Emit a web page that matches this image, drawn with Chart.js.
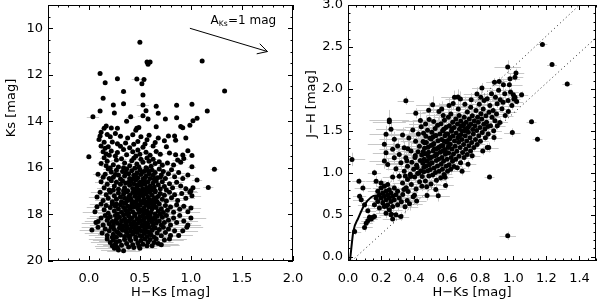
<!DOCTYPE html>
<html>
<head>
<meta charset="utf-8">
<script src="https://cdn.jsdelivr.net/npm/chart.js@4.4.0/dist/chart.umd.min.js"></script>
<style>
  body { margin: 0; background: #fff; }
  #wrap { position: relative; width: 600px; height: 302px; overflow: hidden; }
  canvas { position: absolute; top: 0; }
</style>
</head>
<body>
<div id="wrap">
  <canvas id="cmd" width="310" height="302" style="left:0"></canvas>
  <canvas id="ccd" width="300" height="302" style="left:300px"></canvas>
</div>
<script>
// left panel: [H-Ks, Ks, err(H-Ks)]
const cmdBright = [
  [0.50,10.60,0.02],[0.57,11.45,0.02],[0.60,11.45,0.02],[0.58,11.55,0.02],[1.11,11.41,0.02],
  [0.11,11.94,0.02],[0.16,12.34,0.02],[0.28,12.17,0.02],[0.47,12.18,0.05],[0.54,12.20,0.03],
  [0.52,12.38,0.02],[1.33,12.70,0.02],[0.34,12.72,0.03],[0.53,12.87,0.02],[0.14,13.01,0.02],
  [0.24,13.30,0.02],[0.34,13.24,0.02],[0.53,13.30,0.06],[0.66,13.35,0.02],[0.86,13.31,0.02],
  [1.01,13.27,0.02],[1.16,13.55,0.02],[0.11,13.56,0.02],[0.25,13.64,0.02],[0.04,13.80,0.06],
  [0.56,13.54,0.02],[0.58,13.90,0.02],[0.53,13.76,0.05],[0.68,13.65,0.02],[0.41,13.80,0.04],
  [0.75,13.90,0.02],[0.86,13.84,0.02],[1.06,13.87,0.02],[0.37,13.99,0.02],[1.02,13.97,0.02],
  [0.47,14.30,0.03],[0.49,14.26,0.02],[0.46,14.38,0.02],[0.66,14.23,0.02],[0.90,14.22,0.02],
  [0.99,14.17,0.02],[0.92,14.27,0.02],[0.17,14.20,0.02],[0.15,14.30,0.03],[0.22,14.28,0.02],
  [0.28,14.30,0.02],[0.11,14.63,0.03]
];
const cmd14 = [
  [0.12,14.47,0.02],[0.18,14.56,0.03],[0.21,14.66,0.02],[0.10,14.78,0.03],[0.26,14.52,0.02],
  [0.31,14.64,0.03],[0.38,14.71,0.02],[0.43,14.57,0.03],[0.48,14.86,0.02],[0.51,14.66,0.03],
  [0.57,14.79,0.02],[0.59,14.60,0.03],[0.65,14.91,0.02],[0.68,14.72,0.03],[0.74,14.83,0.02],
  [0.78,14.63,0.03],[0.84,14.63,0.02],[0.85,14.81,0.03],[0.95,14.72,0.02],[0.23,14.89,0.03],
  [0.28,14.96,0.02],[0.36,14.93,0.03],[0.15,14.90,0.02],[0.55,14.97,0.03],[0.44,14.98,0.02]
];
const cmd15 = [
  [0.12,15.06,0.03],[0.16,15.16,0.04],[0.19,15.09,0.03],[0.22,15.27,0.04],[0.17,15.40,0.03],
  [0.20,15.46,0.04],[0.28,15.34,0.03],[0.31,15.07,0.04],[0.34,15.21,0.03],[0.37,15.43,0.04],
  [0.40,15.13,0.03],[0.43,15.31,0.04],[0.48,15.23,0.03],[0.50,15.41,0.04],[0.53,15.11,0.03],
  [0.56,15.33,0.04],[0.60,15.46,0.03],[0.63,15.06,0.04],[0.66,15.29,0.03],[0.70,15.41,0.04],
  [0.76,15.09,0.03],[0.79,15.36,0.04],[0.85,15.43,0.03],[0.92,15.45,0.04],[1.01,15.47,0.03],
  [0.26,15.49,0.04],[0.46,15.49,0.03],[0.14,15.31,0.04],[0.97,15.26,0.03],[0.00,15.52,0.03]
];
const cmd155 = [
  [0.15,15.56,0.04],[0.18,15.71,0.05],[0.24,15.86,0.04],[0.27,15.66,0.05],[0.29,15.96,0.04],
  [0.32,15.61,0.05],[0.35,15.79,0.04],[0.40,15.91,0.05],[0.42,15.69,0.04],[0.47,15.83,0.05],
  [0.49,15.96,0.04],[0.51,15.63,0.05],[0.53,15.76,0.04],[0.57,15.57,0.05],[0.61,15.93,0.04],
  [0.63,15.63,0.05],[0.65,15.81,0.04],[0.69,15.73,0.05],[0.72,15.89,0.04],[0.77,15.79,0.05],
  [0.83,15.87,0.04],[0.87,15.66,0.05],[0.90,15.76,0.04],[1.01,15.95,0.04],[0.17,15.91,0.05],
  [0.21,16.00,0.04],[0.34,15.99,0.05],[0.44,15.58,0.04],[0.56,15.99,0.05],[0.12,15.81,0.04],
  [0.59,15.71,0.05],[0.93,15.60,0.04]
];
const cmd16 = [
  [0.09,16.27,0.05],[0.16,16.27,0.06],[0.19,16.05,0.05],[0.22,16.18,0.06],[0.24,16.40,0.05],
  [0.27,16.10,0.06],[0.29,16.30,0.05],[0.31,16.48,0.06],[0.33,16.15,0.05],[0.35,16.35,0.06],
  [0.37,16.05,0.05],[0.39,16.25,0.06],[0.40,16.45,0.05],[0.42,16.12,0.06],[0.44,16.32,0.05],
  [0.45,16.02,0.06],[0.47,16.22,0.05],[0.48,16.42,0.06],[0.50,16.08,0.05],[0.51,16.28,0.06],
  [0.53,16.48,0.05],[0.54,16.15,0.06],[0.56,16.35,0.05],[0.57,16.05,0.06],[0.59,16.25,0.05],
  [0.60,16.45,0.06],[0.62,16.10,0.05],[0.63,16.32,0.06],[0.65,16.20,0.05],[0.67,16.42,0.06],
  [0.69,16.05,0.05],[0.71,16.30,0.06],[0.73,16.15,0.05],[0.75,16.45,0.06],[0.78,16.25,0.05],
  [0.81,16.08,0.06],[0.84,16.38,0.05],[0.88,16.20,0.06],[0.92,16.45,0.05],[0.97,16.30,0.06],
  [1.23,16.06,0.04],[1.06,16.52,0.05],[0.20,16.45,0.06],[0.14,16.40,0.05],[0.26,16.28,0.06],
  [0.36,16.20,0.05],[0.46,16.38,0.06],[0.52,16.20,0.05],[0.58,16.12,0.06],[0.64,16.48,0.05],
  [0.70,16.40,0.06],[0.55,16.42,0.05],[0.43,16.48,0.06]
];
const cmd165 = [
  [0.12,16.60,0.06],[0.15,16.85,0.07],[0.18,16.70,0.06],[0.20,16.95,0.07],[0.22,16.55,0.06],
  [0.25,16.78,0.07],[0.27,16.62,0.06],[0.29,16.92,0.07],[0.31,16.70,0.06],[0.33,16.55,0.07],
  [0.35,16.85,0.06],[0.36,16.65,0.07],[0.38,16.98,0.06],[0.40,16.75,0.07],[0.41,16.58,0.06],
  [0.43,16.88,0.07],[0.44,16.68,0.06],[0.46,16.52,0.07],[0.47,16.80,0.06],[0.49,16.95,0.07],
  [0.50,16.62,0.06],[0.51,16.75,0.07],[0.53,16.90,0.06],[0.54,16.55,0.07],[0.55,16.70,0.06],
  [0.57,16.85,0.07],[0.58,16.60,0.06],[0.60,16.78,0.07],[0.61,16.95,0.06],[0.63,16.65,0.07],
  [0.64,16.82,0.06],[0.66,16.55,0.07],[0.68,16.72,0.06],[0.70,16.90,0.07],[0.72,16.60,0.06],
  [0.74,16.80,0.07],[0.76,16.95,0.06],[0.79,16.68,0.07],[0.82,16.85,0.06],[0.86,16.62,0.07],
  [0.90,16.78,0.06],[0.95,16.90,0.07],[1.00,16.98,0.06],[1.17,16.84,0.05],[1.02,16.85,0.07],
  [0.45,16.95,0.06],[0.52,16.68,0.07],[0.59,16.92,0.06],[0.39,16.62,0.07],[0.48,16.72,0.06],
  [0.56,16.98,0.07],[0.65,16.98,0.06],[0.24,16.95,0.07],[0.34,16.98,0.06]
];
const cmd17 = [
  [0.08,17.25,0.08],[0.11,17.05,0.09],[0.14,17.40,0.08],[0.17,17.15,0.09],[0.19,17.30,0.08],
  [0.21,17.05,0.09],[0.23,17.45,0.08],[0.25,17.20,0.09],[0.27,17.35,0.08],[0.29,17.08,0.09],
  [0.31,17.25,0.08],[0.32,17.45,0.09],[0.34,17.12,0.08],[0.35,17.30,0.09],[0.37,17.02,0.08],
  [0.38,17.40,0.09],[0.40,17.18,0.08],[0.41,17.32,0.09],[0.43,17.06,0.08],[0.44,17.48,0.09],
  [0.45,17.22,0.08],[0.47,17.38,0.09],[0.48,17.10,0.08],[0.49,17.28,0.09],[0.51,17.44,0.08],
  [0.52,17.04,0.09],[0.53,17.20,0.08],[0.54,17.35,0.09],[0.56,17.12,0.08],[0.57,17.48,0.09],
  [0.58,17.26,0.08],[0.60,17.06,0.09],[0.61,17.40,0.08],[0.62,17.18,0.09],[0.64,17.32,0.08],
  [0.65,17.02,0.09],[0.67,17.45,0.08],[0.68,17.22,0.09],[0.70,17.10,0.08],[0.72,17.35,0.09],
  [0.74,17.18,0.08],[0.76,17.42,0.09],[0.79,17.05,0.08],[0.81,17.28,0.09],[0.84,17.15,0.08],
  [0.87,17.40,0.09],[0.91,17.10,0.08],[0.95,17.30,0.09],[0.99,17.05,0.08],[1.01,17.20,0.09],
  [0.46,17.02,0.08],[0.55,17.45,0.09],[0.63,17.48,0.08],[0.39,17.25,0.09],[0.50,17.15,0.08],
  [0.59,17.36,0.09],[0.66,17.28,0.08],[0.42,17.42,0.09],[0.36,17.50,0.08]
];
const cmd175 = [
  [0.06,17.88,0.12],[0.08,17.67,0.10],[0.12,17.55,0.11],[0.15,17.80,0.10],[0.17,17.62,0.12],
  [0.19,17.95,0.10],[0.21,17.70,0.11],[0.23,17.55,0.10],[0.25,17.85,0.12],[0.26,17.65,0.10],
  [0.28,17.98,0.11],[0.29,17.75,0.10],[0.31,17.58,0.12],[0.32,17.90,0.10],[0.34,17.70,0.11],
  [0.35,17.52,0.10],[0.36,17.82,0.12],[0.38,17.65,0.10],[0.39,17.95,0.11],[0.40,17.78,0.10],
  [0.42,17.58,0.12],[0.43,17.88,0.10],[0.44,17.68,0.11],[0.45,17.98,0.10],[0.47,17.55,0.12],
  [0.48,17.75,0.10],[0.49,17.92,0.11],[0.50,17.62,0.10],[0.51,17.82,0.12],[0.52,17.52,0.10],
  [0.54,17.72,0.11],[0.55,17.95,0.10],[0.56,17.60,0.12],[0.57,17.85,0.10],[0.59,17.68,0.11],
  [0.60,17.52,0.10],[0.61,17.90,0.12],[0.62,17.75,0.10],[0.64,17.58,0.11],[0.65,17.98,0.10],
  [0.66,17.70,0.12],[0.68,17.85,0.10],[0.69,17.55,0.11],[0.71,17.75,0.10],[0.73,17.92,0.12],
  [0.75,17.62,0.10],[0.77,17.82,0.11],[0.80,17.68,0.10],[0.83,17.90,0.12],[0.86,17.58,0.10],
  [0.89,17.78,0.11],[0.93,17.65,0.10],[0.97,17.88,0.12],[1.00,17.72,0.10],[0.46,17.65,0.11],
  [0.53,17.85,0.10],[0.58,17.98,0.12],[0.41,17.70,0.10],[0.37,17.96,0.11],[0.63,17.65,0.10],
  [0.70,17.97,0.12],[0.27,17.55,0.10]
];
const cmd18 = [
  [0.07,18.35,0.14],[0.09,18.30,0.13],[0.12,18.15,0.14],[0.14,18.45,0.13],[0.16,18.05,0.15],
  [0.18,18.25,0.13],[0.20,18.40,0.14],[0.21,18.10,0.13],[0.23,18.30,0.15],[0.24,18.48,0.13],
  [0.26,18.05,0.14],[0.27,18.22,0.13],[0.28,18.38,0.15],[0.30,18.12,0.13],[0.31,18.45,0.14],
  [0.32,18.28,0.13],[0.34,18.02,0.15],[0.35,18.18,0.13],[0.36,18.35,0.14],[0.37,18.50,0.13],
  [0.39,18.08,0.15],[0.40,18.25,0.13],[0.41,18.42,0.14],[0.42,18.15,0.13],[0.44,18.32,0.15],
  [0.45,18.05,0.13],[0.46,18.48,0.14],[0.47,18.20,0.13],[0.48,18.38,0.15],[0.50,18.10,0.13],
  [0.51,18.28,0.14],[0.52,18.45,0.13],[0.53,18.02,0.15],[0.54,18.18,0.13],[0.55,18.35,0.14],
  [0.57,18.12,0.13],[0.58,18.42,0.15],[0.59,18.25,0.13],[0.60,18.05,0.14],[0.62,18.32,0.13],
  [0.63,18.48,0.15],[0.64,18.15,0.13],[0.66,18.38,0.14],[0.67,18.08,0.13],[0.69,18.28,0.15],
  [0.71,18.45,0.13],[0.72,18.12,0.14],[0.74,18.35,0.13],[0.76,18.05,0.15],[0.78,18.25,0.13],
  [0.80,18.45,0.14],[0.83,18.15,0.13],[0.86,18.35,0.15],[0.89,18.05,0.13],[0.93,18.28,0.14],
  [0.97,18.45,0.13],[1.00,18.15,0.15],[0.43,18.40,0.13],[0.49,18.22,0.14],[0.56,18.50,0.13],
  [0.61,18.18,0.15],[0.38,18.30,0.13],[0.33,18.48,0.14],[0.65,18.22,0.13],[0.25,18.32,0.15],
  [0.19,18.15,0.13]
];
const cmd185 = [
  [0.03,18.67,0.12],[0.09,18.55,0.16],[0.13,18.80,0.17],[0.16,18.62,0.15],[0.18,18.90,0.18],
  [0.20,18.70,0.16],[0.22,18.55,0.17],[0.24,18.85,0.15],[0.25,18.65,0.18],[0.27,18.98,0.16],
  [0.28,18.75,0.17],[0.30,18.58,0.15],[0.31,18.88,0.18],[0.33,18.68,0.16],[0.34,18.52,0.17],
  [0.35,18.95,0.15],[0.37,18.78,0.18],[0.38,18.60,0.16],[0.39,18.90,0.17],[0.41,18.72,0.15],
  [0.42,18.55,0.18],[0.43,18.85,0.16],[0.45,18.65,0.17],[0.46,18.98,0.15],[0.47,18.78,0.18],
  [0.49,18.58,0.16],[0.50,18.90,0.17],[0.51,18.70,0.15],[0.53,18.52,0.18],[0.54,18.82,0.16],
  [0.55,18.65,0.17],[0.57,18.95,0.15],[0.58,18.75,0.18],[0.59,18.55,0.16],[0.61,18.88,0.17],
  [0.62,18.68,0.15],[0.64,18.98,0.18],[0.65,18.58,0.16],[0.67,18.80,0.17],[0.69,18.65,0.15],
  [0.71,18.92,0.18],[0.73,18.55,0.16],[0.75,18.78,0.17],[0.78,18.62,0.15],[0.80,18.90,0.16],
  [0.84,18.70,0.17],[0.88,18.90,0.14],[0.92,18.70,0.15],[0.96,18.55,0.16],[0.44,18.75,0.17],
  [0.48,18.62,0.15],[0.52,18.95,0.18],[0.56,18.72,0.16],[0.40,18.98,0.17],[0.36,18.68,0.15],
  [0.60,18.80,0.18],[0.29,18.80,0.16],[0.23,18.98,0.17]
];
const cmd19 = [
  [0.18,19.05,0.18],[0.21,19.20,0.19],[0.23,19.35,0.17],[0.24,19.10,0.20],[0.26,19.28,0.18],
  [0.28,19.42,0.19],[0.29,19.53,0.17],[0.30,19.15,0.20],[0.32,19.32,0.18],[0.34,19.56,0.16],
  [0.35,19.08,0.19],[0.37,19.25,0.17],[0.39,19.40,0.20],[0.41,19.12,0.18],[0.43,19.30,0.19],
  [0.44,19.42,0.17],[0.46,19.05,0.20],[0.48,19.22,0.18],[0.49,19.35,0.19],[0.51,19.12,0.17],
  [0.53,19.28,0.20],[0.55,19.05,0.18],[0.57,19.35,0.19],[0.58,19.18,0.17],[0.60,19.08,0.20],
  [0.62,19.35,0.18],[0.64,19.20,0.19],[0.66,19.05,0.17],[0.68,19.25,0.20],[0.71,19.30,0.18],
  [0.74,19.10,0.19],[0.79,19.05,0.17],[0.25,19.45,0.18],[0.40,19.05,0.19],[0.50,19.45,0.17],
  [0.27,19.18,0.18]
];

// right panel: [H-Ks, J-H, err]
const ccdBlue = [
  [0.024,1.16,0.08],[0.16,1.00,0.04],[0.066,0.90,0.04],[0.09,0.82,0.05],[0.07,0.72,0.04],
  [0.08,0.68,0.05],[0.10,0.62,0.04],[0.12,0.55,0.05],[0.13,0.47,0.04],[0.14,0.45,0.04],
  [0.15,0.47,0.05],[0.11,0.40,0.04],[0.10,0.35,0.05],[0.12,0.43,0.04],[0.16,0.48,0.04],
  [0.04,0.30,0.04],[0.32,0.48,0.05],[0.27,0.45,0.06],[0.29,0.50,0.05]
];
const ccdLow = [
  [0.16,0.62,0.05],[0.17,0.70,0.04],[0.18,0.78,0.06],[0.18,0.66,0.05],[0.19,0.74,0.04],
  [0.19,0.58,0.07],[0.20,0.82,0.05],[0.20,0.70,0.04],[0.21,0.64,0.06],[0.21,0.76,0.05],
  [0.22,0.72,0.04],[0.22,0.60,0.08],[0.22,0.84,0.05],[0.23,0.68,0.04],[0.23,0.78,0.06],
  [0.24,0.74,0.05],[0.24,0.62,0.07],[0.24,0.86,0.05],[0.25,0.70,0.04],[0.25,0.56,0.08],
  [0.25,0.80,0.05],[0.26,0.66,0.06],[0.26,0.76,0.04],[0.27,0.72,0.05],[0.27,0.60,0.07],
  [0.28,0.82,0.06],[0.28,0.68,0.05],[0.29,0.74,0.06],[0.30,0.62,0.08],[0.30,0.78,0.05],
  [0.31,0.70,0.07],[0.23,0.52,0.06],[0.26,0.50,0.07],[0.20,0.88,0.05],[0.17,0.90,0.06]
];
const ccdWing = [
  [0.22,1.34,0.10],[0.23,1.24,0.08],[0.22,1.14,0.09],[0.24,1.10,0.07],[0.23,1.46,0.10],
  [0.25,1.63,0.12],[0.25,1.61,0.10],[0.26,1.52,0.09],[0.27,1.28,0.08],[0.28,1.18,0.07],
  [0.28,1.40,0.09],[0.29,1.05,0.06],[0.30,1.32,0.08],[0.31,1.22,0.07],[0.31,0.96,0.06],
  [0.32,1.12,0.07],[0.33,1.45,0.09],[0.33,0.88,0.06],[0.34,1.02,0.06],[0.34,1.30,0.08],
  [0.35,1.86,0.05],[0.35,1.18,0.07],[0.36,0.92,0.06],[0.36,1.08,0.07],[0.27,0.95,0.06]
];
const ccd40 = [
  [0.323,0.655,0.07],[0.331,0.742,0.06],[0.345,0.596,0.08],[0.352,0.823,0.06],[0.358,0.671,0.07],
  [0.364,0.778,0.06],[0.372,0.631,0.08],[0.377,0.985,0.07],[0.383,0.862,0.06],[0.386,1.127,0.08],
  [0.381,1.262,0.09],[0.394,0.714,0.07],[0.397,1.043,0.06],[0.403,0.951,0.07],[0.405,1.184,0.08],
  [0.409,1.378,0.09],[0.412,0.808,0.06],[0.415,1.092,0.07],[0.410,1.710,0.06],[0.421,0.993,0.06],
  [0.424,1.251,0.08],[0.426,1.463,0.10],[0.433,0.893,0.06],[0.437,1.147,0.07],[0.432,1.318,0.08],
  [0.441,1.026,0.06],[0.446,1.212,0.07],[0.443,1.548,0.10],[0.449,0.958,0.06],[0.452,1.118,0.07],
  [0.454,1.373,0.08],[0.402,0.733,0.07],[0.392,1.512,0.10],[0.368,1.414,0.09],[0.362,1.287,0.08],
  [0.447,0.842,0.06],[0.438,1.623,0.11],[0.418,1.064,0.06],[0.428,0.998,0.05],[0.407,1.208,0.07],
  [0.379,0.958,0.06],[0.356,1.143,0.07],[0.338,0.803,0.06],[0.347,0.962,0.07],[0.415,0.665,0.06],
  [0.455,1.255,0.07]
];
const ccd50 = [
  [0.458,1.012,0.06],[0.461,1.163,0.07],[0.463,1.294,0.08],[0.457,1.471,0.09],[0.468,0.903,0.06],
  [0.472,1.083,0.06],[0.466,1.228,0.07],[0.474,1.362,0.08],[0.469,1.582,0.10],[0.478,0.731,0.06],
  [0.482,1.024,0.05],[0.476,1.142,0.06],[0.484,1.305,0.07],[0.481,1.508,0.09],[0.489,0.962,0.05],
  [0.492,1.098,0.06],[0.487,1.247,0.07],[0.495,1.412,0.08],[0.491,1.635,0.10],[0.502,0.868,0.06],
  [0.498,1.041,0.05],[0.505,1.186,0.06],[0.501,1.327,0.07],[0.507,1.483,0.08],[0.512,0.975,0.05],
  [0.509,1.121,0.06],[0.515,1.262,0.07],[0.513,1.427,0.08],[0.518,1.612,0.09],[0.521,1.058,0.05],
  [0.524,1.204,0.06],[0.519,1.351,0.07],[0.527,1.529,0.09],[0.531,0.802,0.06],[0.529,1.003,0.05],
  [0.534,1.146,0.06],[0.536,1.288,0.07],[0.532,1.446,0.08],[0.541,1.082,0.05],[0.538,1.227,0.06],
  [0.544,1.384,0.07],[0.542,1.568,0.09],[0.546,0.728,0.07],[0.551,1.019,0.05],[0.548,1.163,0.06],
  [0.553,1.307,0.07],[0.556,1.462,0.08],[0.550,1.730,0.10],[0.463,1.358,0.08],[0.486,1.198,0.06],
  [0.503,1.403,0.08],[0.522,1.283,0.07],[0.494,1.172,0.06],[0.516,1.338,0.07],[0.533,1.213,0.06],
  [0.471,1.437,0.09],[0.497,1.112,0.05],[0.526,1.442,0.08],[0.547,1.298,0.07],[0.459,1.068,0.06],
  [0.488,1.746,0.09],[0.512,1.812,0.10],[0.476,0.836,0.06],[0.535,0.912,0.06]
];
const ccd60 = [
  [0.561,0.943,0.05],[0.563,1.104,0.06],[0.558,1.246,0.06],[0.566,1.398,0.07],[0.562,1.584,0.09],
  [0.571,1.043,0.05],[0.568,1.182,0.06],[0.574,1.325,0.07],[0.572,1.503,0.08],[0.576,1.684,0.10],
  [0.581,0.982,0.05],[0.578,1.138,0.06],[0.584,1.279,0.06],[0.586,1.442,0.07],[0.583,1.627,0.09],
  [0.590,0.850,0.05],[0.593,1.078,0.05],[0.589,1.221,0.06],[0.596,1.364,0.07],[0.594,1.543,0.08],
  [0.602,1.018,0.05],[0.599,1.161,0.06],[0.605,1.302,0.06],[0.603,1.464,0.07],[0.607,1.663,0.09],
  [0.612,1.097,0.05],[0.609,1.238,0.06],[0.615,1.403,0.07],[0.613,1.561,0.08],[0.611,1.802,0.10],
  [0.621,1.042,0.05],[0.624,1.183,0.06],[0.619,1.341,0.06],[0.626,1.497,0.07],[0.622,1.702,0.09],
  [0.632,1.138,0.05],[0.629,1.284,0.06],[0.635,1.439,0.07],[0.633,1.603,0.08],[0.641,1.077,0.05],
  [0.638,1.224,0.06],[0.644,1.381,0.06],[0.642,1.541,0.07],[0.644,1.900,0.08],[0.651,1.162,0.05],
  [0.648,1.318,0.06],[0.654,1.476,0.07],[0.652,1.641,0.08],[0.564,1.322,0.07],[0.582,1.378,0.07],
  [0.601,1.383,0.06],[0.618,1.421,0.07],[0.592,1.462,0.07],[0.573,1.262,0.06],[0.608,1.318,0.06],
  [0.628,1.524,0.07],[0.597,1.243,0.06],[0.579,1.521,0.08],[0.567,1.762,0.09],[0.636,1.826,0.08],
  [0.587,0.948,0.05]
];
const ccd70 = [
  [0.661,1.062,0.05],[0.658,1.258,0.06],[0.664,1.417,0.06],[0.662,1.583,0.07],[0.667,1.762,0.09],
  [0.671,1.198,0.05],[0.669,1.364,0.06],[0.674,1.521,0.07],[0.672,1.683,0.08],[0.681,1.121,0.05],
  [0.678,1.302,0.06],[0.684,1.457,0.06],[0.682,1.618,0.07],[0.680,1.880,0.09],[0.690,1.020,0.05],
  [0.693,1.243,0.05],[0.689,1.398,0.06],[0.696,1.562,0.07],[0.702,1.182,0.05],[0.699,1.338,0.06],
  [0.705,1.503,0.06],[0.703,1.664,0.07],[0.707,1.818,0.09],[0.712,1.281,0.05],[0.709,1.442,0.06],
  [0.715,1.603,0.07],[0.721,1.218,0.05],[0.718,1.381,0.06],[0.724,1.538,0.06],[0.722,1.724,0.08],
  [0.731,1.322,0.05],[0.728,1.483,0.06],[0.734,1.642,0.07],[0.741,1.262,0.05],[0.738,1.418,0.06],
  [0.744,1.583,0.06],[0.742,1.781,0.08],[0.751,1.204,0.05],[0.748,1.362,0.05],[0.754,1.518,0.06],
  [0.752,1.682,0.07],[0.673,1.442,0.06],[0.691,1.502,0.06],[0.711,1.523,0.06],[0.733,1.561,0.06],
  [0.683,1.561,0.07],[0.701,1.582,0.06],[0.726,1.102,0.05],[0.745,1.872,0.08],[0.665,1.905,0.09]
];
const ccd80 = [
  [0.761,1.302,0.05],[0.758,1.463,0.05],[0.764,1.621,0.06],[0.771,1.398,0.05],[0.768,1.562,0.06],
  [0.774,1.742,0.07],[0.781,1.338,0.05],[0.778,1.504,0.05],[0.784,1.662,0.06],[0.780,1.940,0.08],
  [0.791,1.441,0.05],[0.788,1.603,0.06],[0.794,1.818,0.07],[0.801,1.378,0.05],[0.798,1.542,0.05],
  [0.804,1.703,0.06],[0.810,2.010,0.06],[0.812,1.482,0.05],[0.809,1.641,0.06],[0.821,1.578,0.05],
  [0.818,1.762,0.06],[0.831,1.418,0.05],[0.828,1.523,0.05],[0.834,1.682,0.06],[0.842,1.882,0.07],
  [0.838,1.602,0.05],[0.851,1.302,0.06],[0.848,1.462,0.05],[0.853,1.722,0.06],[0.823,1.862,0.07],
  [0.803,1.902,0.07],[0.815,1.262,0.05],[0.846,1.552,0.05]
];
const ccd90 = [
  [0.862,1.562,0.05],[0.858,1.803,0.06],[0.871,1.664,0.05],[0.868,1.942,0.06],[0.881,1.503,0.05],
  [0.878,1.742,0.05],[0.886,2.080,0.05],[0.892,1.902,0.06],[0.889,1.622,0.05],[0.902,1.823,0.05],
  [0.898,1.702,0.05],[0.911,1.983,0.06],[0.914,2.090,0.05],[0.921,1.872,0.05],[0.918,1.601,0.05],
  [0.931,1.763,0.05],[0.940,2.050,0.07],[0.938,1.842,0.05],[0.951,1.683,0.05],[0.948,1.942,0.06],
  [0.966,2.260,0.08],[0.976,2.050,0.08],[0.980,2.120,0.06],[0.970,1.730,0.05],[0.968,1.862,0.05],
  [0.983,1.962,0.05],[0.991,1.802,0.05],[1.000,1.930,0.04],[1.010,1.900,0.04],[1.003,1.880,0.04],
  [1.020,1.850,0.04],[1.016,2.190,0.05],[1.010,2.140,0.05],[1.050,1.930,0.04],[0.994,1.480,0.05],
  [0.903,1.562,0.05],[0.842,1.302,0.05],[0.883,1.421,0.05]
];
const ccdRed = [
  [1.176,2.53,0.03],[1.234,2.29,0.03],[1.326,2.06,0.03],[1.11,1.61,0.03],[1.146,1.40,0.03],
  [0.856,0.95,0.03],[0.966,0.25,0.05]
];

// intrinsic dwarf locus and reddening band
const locusHK = [0.012, 0.02, 0.032, 0.062, 0.10, 0.14, 0.17, 0.20, 0.23, 0.26, 0.31];
const locusJH = [-0.05, 0.10, 0.30, 0.46, 0.62, 0.71, 0.73, 0.70, 0.60, 0.53, 0.48];
const bandUpper = [[0.17, 0.73], [1.40, 3.0]];
const bandLower = [[0.022, -0.05], [1.5, 2.61]];

// reddening arrow A_Ks = 1 mag in the left panel
const arrowFrom = [0.99, 10.0];
const arrowTo = [1.75, 11.0];

const xTicksL = [0.0, 0.5, 1.0, 1.5, 2.0];
const yTicksL = [10, 12, 14, 16, 18, 20];
const xTicksR = [0.0, 0.2, 0.4, 0.6, 0.8, 1.0, 1.2, 1.4];
const yTicksR = [0.0, 0.5, 1.0, 1.5, 2.0, 2.5, 3.0];

const FONT = '"DejaVu Sans", sans-serif';
const cmdStars = [].concat(cmdBright, cmd14, cmd15, cmd155, cmd16, cmd165, cmd17, cmd175, cmd18, cmd185, cmd19);
const ccdStars = [].concat(ccdBlue, ccdLow, ccdWing, ccd40, ccd50, ccd60, ccd70, ccd80, ccd90, ccdRed);

function minorTicks(ctx, sc, a, step, minor, isX) {
  const n0 = Math.ceil(sc.min / minor - 1e-6);
  const n1 = Math.floor(sc.max / minor + 1e-6);
  for (let i = n0; i <= n1; i++) {
    const v = i * minor;
    const isMajor = Math.abs(v / step - Math.round(v / step)) < 1e-6;
    const len = isMajor ? 5 : 2.5;
    const p = Math.round(sc.getPixelForValue(v)) + 0.5;
    if (isX) {
      ctx.moveTo(p, a.bottom); ctx.lineTo(p, a.bottom - len);
      ctx.moveTo(p, a.top); ctx.lineTo(p, a.top + len);
    } else {
      ctx.moveTo(a.left, p); ctx.lineTo(a.left + len, p);
      ctx.moveTo(a.right, p); ctx.lineTo(a.right - len, p);
    }
  }
}

const idlFrame = (cfg) => ({
  id: 'idlFrame',
  beforeDatasetsDraw(chart) {
    const { ctx, chartArea: a, scales: { x, y } } = chart;
    ctx.save();
    ctx.beginPath();
    ctx.rect(a.left, a.top, a.right - a.left, a.bottom - a.top);
    ctx.clip();
    ctx.strokeStyle = '#c8c8c8';
    ctx.lineWidth = 1;
    ctx.beginPath();
    cfg.stars.forEach(s => {
      const px = Math.round(x.getPixelForValue(s[0])) + 0.5;
      const py = Math.round(y.getPixelForValue(s[1])) + 0.5;
      ctx.moveTo(x.getPixelForValue(s[0] - s[2]), py);
      ctx.lineTo(x.getPixelForValue(s[0] + s[2]), py);
      if (cfg.yErr) {
        ctx.moveTo(px, y.getPixelForValue(s[1] - s[2]));
        ctx.lineTo(px, y.getPixelForValue(s[1] + s[2]));
      }
    });
    ctx.stroke();
    ctx.restore();
  },
  afterDraw(chart) {
    const { ctx, chartArea: a, scales: { x, y } } = chart;
    ctx.save();
    ctx.strokeStyle = '#000';
    ctx.lineWidth = 1;
    ctx.strokeRect(a.left + 0.5, a.top + 0.5, a.right - a.left - 1, a.bottom - a.top - 1);
    ctx.beginPath();
    minorTicks(ctx, x, a, cfg.xStep, cfg.xMinor, true);
    minorTicks(ctx, y, a, cfg.yStep, cfg.yMinor, false);
    ctx.stroke();

    ctx.fillStyle = '#000';
    ctx.font = '13px ' + FONT;
    ctx.textAlign = 'center';
    ctx.textBaseline = 'middle';
    ctx.fillText(cfg.xTitle, (a.left + a.right) / 2, 293);
    ctx.save();
    ctx.translate(12, cfg.yTitleMid);
    ctx.rotate(-Math.PI / 2);
    ctx.fillText(cfg.yTitle, 0, 0);
    ctx.restore();

    if (cfg.arrow) {
      const x0 = x.getPixelForValue(arrowFrom[0]), y0 = y.getPixelForValue(arrowFrom[1]);
      const x1 = x.getPixelForValue(arrowTo[0]), y1 = y.getPixelForValue(arrowTo[1]);
      const ang = Math.atan2(y1 - y0, x1 - x0);
      ctx.beginPath();
      ctx.moveTo(x0, y0); ctx.lineTo(x1, y1);
      [-0.5, 0.5].forEach(d => {
        ctx.moveTo(x1, y1);
        ctx.lineTo(x1 - 11 * Math.cos(ang + d), y1 - 11 * Math.sin(ang + d));
      });
      ctx.stroke();

      ctx.textAlign = 'left';
      ctx.textBaseline = 'alphabetic';
      let tx = 210.5;
      const base = 23.5;
      ctx.font = '12px ' + FONT;
      ctx.fillText('A', tx, base);
      tx += ctx.measureText('A').width;
      ctx.font = '7.5px ' + FONT;
      ctx.fillText('Ks', tx, base + 2);
      tx += ctx.measureText('Ks').width + 0.5;
      ctx.font = '12px ' + FONT;
      ctx.fillText('=1 mag', tx, base);
    }
    ctx.restore();
  }
});

function makePanel(id, cfg) {
  const tickFont = { family: FONT, size: 13 };
  return new Chart(document.getElementById(id), {
    type: 'scatter',
    data: { datasets: cfg.datasets },
    options: {
      responsive: false,
      animation: false,
      devicePixelRatio: 1,
      layout: { padding: { top: 5, right: cfg.padRight, left: 0, bottom: 0 } },
      plugins: { legend: { display: false }, tooltip: { enabled: false } },
      scales: {
        x: {
          type: 'linear', min: cfg.xMin, max: cfg.xMax,
          grid: { display: false, drawTicks: false },
          border: { display: false },
          ticks: { font: tickFont, color: '#000', padding: 10, maxRotation: 0, autoSkip: false,
                   callback: v => v.toFixed(1) },
          afterBuildTicks: s => { s.ticks = cfg.xTicks.map(v => ({ value: v })); },
          afterFit: s => { s.height = 41; s.paddingLeft = 0; s.paddingRight = 0; }
        },
        y: {
          type: 'linear', min: cfg.yMin, max: cfg.yMax, reverse: cfg.yReverse,
          grid: { display: false, drawTicks: false },
          border: { display: false },
          ticks: { font: tickFont, color: '#000', padding: 5, autoSkip: false,
                   callback: cfg.yFormat },
          afterBuildTicks: s => { s.ticks = cfg.yTicks.map(v => ({ value: v })); },
          afterFit: s => { s.width = 48; s.paddingTop = 0; s.paddingBottom = 0; }
        }
      }
    },
    plugins: [idlFrame(cfg)]
  });
}

const dots = (stars) => ({
  data: stars.map(s => ({ x: s[0], y: s[1] })),
  pointRadius: 2.5,
  pointBackgroundColor: '#000',
  pointBorderWidth: 0,
  showLine: false
});

makePanel('cmd', {
  stars: cmdStars, yErr: false, arrow: true,
  xMin: -0.4, xMax: 2.0, yMin: 9, yMax: 20, yReverse: true, padRight: 17,
  xTicks: xTicksL, yTicks: yTicksL, xStep: 0.5, xMinor: 0.1, yStep: 2, yMinor: 0.5,
  yFormat: v => String(v),
  xTitle: 'H\u2212Ks [mag]', yTitle: 'Ks [mag]', yTitleMid: 108,
  datasets: [dots(cmdStars)]
});

makePanel('ccd', {
  stars: ccdStars, yErr: true, arrow: false,
  xMin: 0, xMax: 1.5, yMin: -0.05, yMax: 3.0, yReverse: false, padRight: 2,
  xTicks: xTicksR, yTicks: yTicksR, xStep: 0.2, xMinor: 0.05, yStep: 0.5, yMinor: 0.1,
  yFormat: v => v.toFixed(1),
  xTitle: 'H\u2212Ks [mag]', yTitle: 'J\u2212H [mag]', yTitleMid: 104,
  datasets: [
    dots(ccdStars),
    { data: locusHK.map((v, i) => ({ x: v, y: locusJH[i] })), showLine: true, pointRadius: 0,
      borderColor: '#000', borderWidth: 2, cubicInterpolationMode: 'monotone' },
    { data: bandUpper.map(p => ({ x: p[0], y: p[1] })), showLine: true, pointRadius: 0,
      borderColor: '#222', borderWidth: 1, borderDash: [1, 3] },
    { data: bandLower.map(p => ({ x: p[0], y: p[1] })), showLine: true, pointRadius: 0,
      borderColor: '#222', borderWidth: 1, borderDash: [1, 3] }
  ]
});
</script>
</body>
</html>
